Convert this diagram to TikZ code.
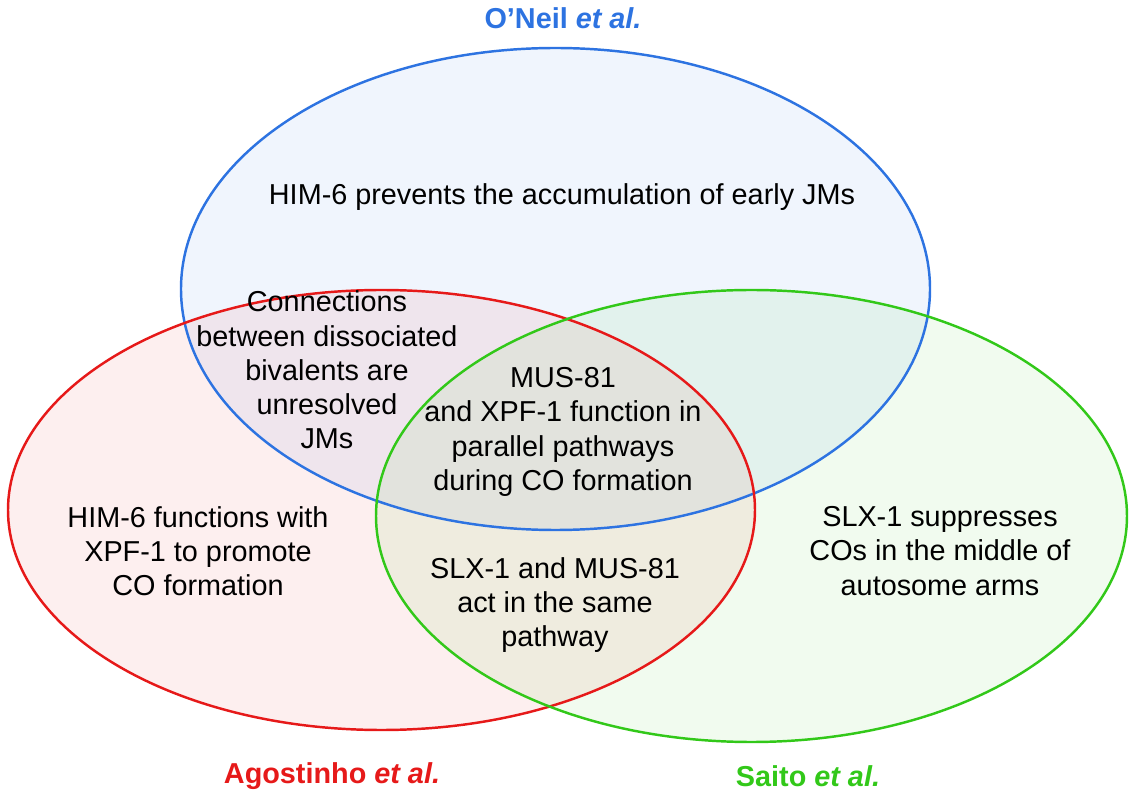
\documentclass[tikz,border=0pt]{standalone}
\usepackage{fontspec}
\setmainfont{Liberation Sans}
\begin{document}
\begin{tikzpicture}[x=0.02cm,y=-0.02cm,
  txt/.style={align=center,font=\fontsize{16.4}{19.5}\selectfont},
  ttl/.style={font=\fontsize{16.4}{18}\selectfont\bfseries}]
\definecolor{cb}{RGB}{45,115,225}
\definecolor{cr}{RGB}{230,25,25}
\definecolor{cg}{RGB}{50,200,25}
\useasboundingbox (0,0) rectangle (1134,800);
\fill[cb,opacity=0.07] (555.5,289) ellipse [x radius=374.5,y radius=241];
\fill[cr,opacity=0.07] (381.5,510) ellipse [x radius=373.5,y radius=220];
\fill[cg,opacity=0.07] (751.5,516) ellipse [x radius=375.5,y radius=226];
\draw[cb,line width=1.4pt] (555.5,289) ellipse [x radius=374.5,y radius=241];
\draw[cr,line width=1.4pt] (381.5,510) ellipse [x radius=373.5,y radius=220];
\draw[cg,line width=1.4pt] (751.5,516) ellipse [x radius=375.5,y radius=226];
\node[ttl,text=cb] (t1) at (563,18) {O’Neil \textit{et al.}};
\node[ttl,text=cr] (t2) at (332,776) {Agostinho \textit{et al.}};
\node[ttl,text=cg] (t3) at (808,776) {Saito \textit{et al.}};
\node[txt] (a) at (562,197) {HIM-6 prevents the accumulation of early JMs};
\node[txt] (b) at (327,370) {Connections\\between dissociated\\bivalents are\\unresolved\\JMs};
\node[txt] (c) at (563,432) {MUS-81\\and XPF-1 function in\\parallel pathways\\during CO formation};
\node[txt] (d) at (198,551) {HIM-6 functions with\\XPF-1 to promote\\CO formation};
\node[txt] (e) at (555,605) {SLX-1 and MUS-81\\act in the same\\pathway};
\node[txt] (f) at (940,551) {SLX-1 suppresses\\COs in the middle of\\autosome arms};
\end{tikzpicture}
\end{document}
